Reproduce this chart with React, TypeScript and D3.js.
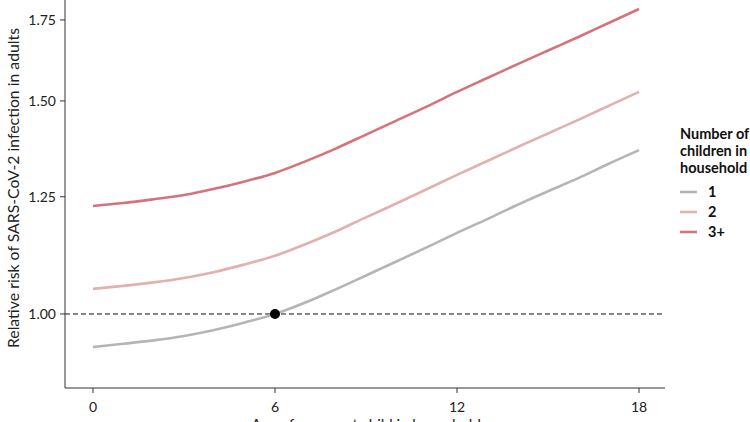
import React from 'react';
import * as d3 from 'd3';

// Age of youngest child (years)
const AGES = [0, 1, 2, 3, 4, 5, 6, 7, 8, 9, 10, 11, 12, 13, 14, 15, 16, 17, 18];

// Relative risk, one array per group
const RR_ONE = [0.939, 0.945, 0.951, 0.959, 0.970, 0.984, 1.0, 1.022, 1.048, 1.076, 1.105, 1.135, 1.167, 1.198, 1.231, 1.263, 1.295, 1.331, 1.366];
const RR_TWO = [1.049, 1.055, 1.062, 1.071, 1.083, 1.099, 1.117, 1.142, 1.170, 1.202, 1.234, 1.268, 1.303, 1.338, 1.374, 1.410, 1.447, 1.486, 1.526];
const RR_THREE = [1.228, 1.235, 1.244, 1.254, 1.269, 1.287, 1.308, 1.337, 1.370, 1.407, 1.445, 1.484, 1.526, 1.567, 1.609, 1.651, 1.694, 1.740, 1.787];

const GROUPS = ['1', '2', '3+'];
const COLORS = ['#b5b5b5', '#e3b0b0', '#d6727a'];

const X_TICKS = [0, 6, 12, 18];
const Y_TICKS = [1.0, 1.25, 1.5, 1.75];

const REF_POINT = { age: 6, rr: 1.0 };

const W = 750;
const H = 422;
const FONT = 'Lato, "Open Sans", sans-serif';

export default function App() {
  const left = 65;
  const right = 665;
  const bottom = 388;

  // x: 0 -> 93px, 18 -> 639px
  const x = d3.scaleLinear().domain([-0.923, 18.857]).range([left, right]);
  // log scale: 1.00 -> 314px, 1.75 -> 20px
  const y = d3.scaleLog().domain([0.8686, 1.8177]).range([bottom, 0]);

  const series = [RR_ONE, RR_TWO, RR_THREE];
  const line = d3
    .line<number>()
    .x((_, i) => x(AGES[i]))
    .y((d) => y(d))
    .curve(d3.curveMonotoneX);

  return (
    <div style={{ position: 'fixed', left: 0, top: 0 }}>
      <svg width={W} height={H} style={{ display: 'block', background: '#fff' }} fontFamily={FONT}>
        {/* dashed reference line at 1.00 */}
        <line
          x1={left}
          x2={right}
          y1={y(1)}
          y2={y(1)}
          stroke="#111"
          strokeWidth={1}
          strokeDasharray="5,3"
        />

        {series.map((s, i) => (
          <path key={GROUPS[i]} d={line(s) || ''} fill="none" stroke={COLORS[i]} strokeWidth={2.6} />
        ))}

        <circle cx={x(REF_POINT.age)} cy={y(REF_POINT.rr)} r={5} fill="#000" />

        {/* y axis */}
        <line x1={left} x2={left} y1={0} y2={bottom} stroke="#333" strokeWidth={1} />
        {Y_TICKS.map((t) => (
          <g key={t}>
            <line x1={left - 5} x2={left} y1={y(t)} y2={y(t)} stroke="#333" />
            <text x={left - 9} y={y(t) + 5} textAnchor="end" fontSize={14} fill="#222">
              {t.toFixed(2)}
            </text>
          </g>
        ))}
        <text
          transform={`translate(19,${188}) rotate(-90)`}
          textAnchor="middle"
          fontSize={15.8}
          fill="#222"
        >
          Relative risk of SARS-CoV-2 infection in adults
        </text>

        {/* x axis */}
        <line x1={left} x2={right} y1={bottom} y2={bottom} stroke="#333" strokeWidth={1} />
        {X_TICKS.map((t) => (
          <g key={t}>
            <line x1={x(t)} x2={x(t)} y1={bottom} y2={bottom + 5} stroke="#333" />
            <text x={x(t)} y={bottom + 24} textAnchor="middle" fontSize={14} fill="#222">
              {t}
            </text>
          </g>
        ))}
        <text x={366} y={430} textAnchor="middle" fontSize={15} fill="#222">
          Age of youngest child in household
        </text>

        {/* legend */}
        <g transform="translate(680,0)">
          {['Number of', 'children in', 'household'].map((s, i) => (
            <text key={s} x={0} y={139 + i * 17} fontSize={14.5} fontWeight="bold" fill="#111">
              {s}
            </text>
          ))}
          {GROUPS.map((g, i) => (
            <g key={g} transform={`translate(0,${192 + i * 20})`}>
              <line x1={0} x2={17} y1={0} y2={0} stroke={COLORS[i]} strokeWidth={2.6} />
              <text x={28} y={5} fontSize={14.5} fontWeight="bold" fill="#111">
                {g}
              </text>
            </g>
          ))}
        </g>
      </svg>
    </div>
  );
}
